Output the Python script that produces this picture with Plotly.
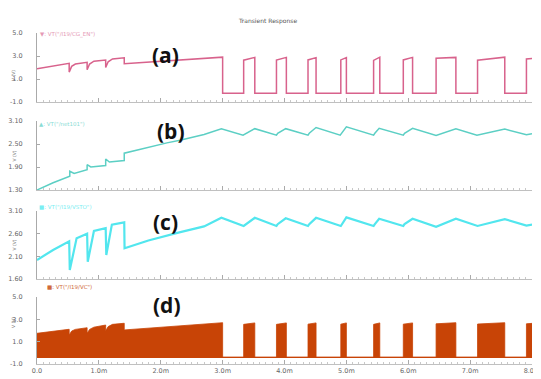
import plotly.graph_objects as go

# ---------------- data ----------------
x_tickvals = [0, 1, 2, 3, 4, 5, 6, 7, 8]
x_ticktext = ["0.0", "1.0m", "2.0m", "3.0m", "4.0m", "5.0m", "6.0m", "7.0m", "8.0m"]

# pulse edges (ms) of the switching phase (shared by CG_EN and VC)
rise_t = [3.34, 3.87, 4.38, 4.91, 5.44, 5.92, 6.45, 7.12, 7.91]
fall_t = [3.52, 4.03, 4.51, 5.00, 5.54, 6.07, 6.77, 7.56, 8.00]

# (a) VT("/I19/CG_EN")
a_t = [0.0, 0.52, 0.52, 0.56, 0.62, 0.81, 0.81, 0.85, 0.92, 1.11, 1.11, 1.15, 1.22, 1.41, 1.41, 3.0]
a_v = [1.90, 2.36, 1.60, 2.10, 2.30, 2.45, 1.80, 2.30, 2.55, 2.65, 2.00, 2.50, 2.75, 2.85, 2.33, 2.90]
a_low = -0.24
a_hi_start = [2.64, 2.64, 2.66, 2.66, 2.62, 2.66, 2.80, 2.64, 2.75]
a_hi_end = [2.88, 2.88, 2.86, 2.86, 2.90, 2.88, 2.88, 2.90, 2.78]

# (b) VT("/net101")
b_t = [0.0, 0.26, 0.53, 0.53, 0.60, 0.81, 0.81, 0.87, 1.11, 1.11, 1.17, 1.41, 1.41, 1.8, 2.1, 2.31, 2.7, 2.98,
       3.33, 3.52, 3.87, 3.89, 4.02, 4.38, 4.40, 4.51, 4.90, 5.00, 5.44, 5.46, 5.53, 5.92, 5.94, 6.07,
       6.45, 6.77, 7.11, 7.56, 7.91, 8.0]
b_v = [1.30, 1.49, 1.66, 1.79, 1.73, 1.83, 1.96, 1.90, 1.94, 2.11, 2.03, 2.07, 2.26, 2.42, 2.53, 2.60, 2.75, 2.90,
       2.73, 2.90, 2.73, 2.78, 2.90, 2.73, 2.78, 2.93, 2.73, 2.95, 2.73, 2.78, 2.91, 2.73, 2.78, 2.91,
       2.72, 2.90, 2.73, 2.89, 2.74, 2.77]

# (c) VT("/I19/VSTO")
c_t = [0.0, 0.26, 0.52, 0.53, 0.64, 0.81, 0.82, 0.92, 1.11, 1.12, 1.21, 1.41, 1.415, 1.8, 2.3, 2.7, 2.98,
       3.34, 3.52, 3.87, 3.89, 4.02, 4.38, 4.40, 4.51, 4.91, 5.00, 5.44, 5.46, 5.53, 5.92, 5.94, 6.07,
       6.45, 6.77, 7.12, 7.56, 7.91, 8.0]
c_v = [2.02, 2.24, 2.43, 1.80, 2.50, 2.60, 1.98, 2.66, 2.72, 2.13, 2.80, 2.85, 2.28, 2.45, 2.63, 2.76, 2.95,
       2.77, 2.95, 2.77, 2.81, 2.94, 2.77, 2.81, 2.95, 2.77, 2.96, 2.77, 2.81, 2.93, 2.77, 2.81, 2.93,
       2.75, 2.93, 2.77, 2.92, 2.78, 2.80]

# (d) VT("/I19/VC")  (envelope of the fast switching waveform)
d_t = [0.0, 0.52, 0.52, 0.56, 0.62, 0.81, 0.81, 0.85, 0.92, 1.11, 1.11, 1.15, 1.22, 1.41, 1.41, 3.0]
d_v = [1.75, 2.11, 1.60, 1.95, 2.10, 2.25, 1.75, 2.10, 2.30, 2.49, 1.98, 2.35, 2.55, 2.65, 2.05, 2.70]
d_low = -0.40
d_hi_start = [2.55, 2.55, 2.57, 2.57, 2.55, 2.57, 2.60, 2.58, 2.60]
d_hi_end = [2.68, 2.68, 2.68, 2.68, 2.68, 2.68, 2.70, 2.70, 2.64]

labels = ["(a)", "(b)", "(c)", "(d)"]
legend_text = ['▼: VT("/I19/CG_EN")', '▲: VT("/net101")', '■: VT("/I19/VSTO")', '■: VT("/I19/VC")']
y_tickvals = [[5.0, 3.0, 1.0, -1.0], [3.10, 2.50, 1.90, 1.30], [3.10, 2.60, 2.10, 1.60], [5.0, 3.0, 1.0, -1.0]]
y_ticktext = [["5.0", "3.0", "1.0", "-1.0"], ["3.10", "2.50", "1.90", "1.30"],
              ["3.10", "2.60", "2.10", "1.60"], ["5.0", "3.0", "1.0", "-1.0"]]


def build_pulses(t0, v0, low, hs, he):
    xs, ys = list(t0), list(v0)
    xs.append(t0[-1]); ys.append(low)
    for r, f, s, e in zip(rise_t, fall_t, hs, he):
        xs += [r, r, f]; ys += [low, s, e]
        if f < 8.0:
            xs.append(f); ys.append(low)
    return xs, ys


ax_x, ax_y = build_pulses(a_t, a_v, a_low, a_hi_start, a_hi_end)
dx, dy = build_pulses(d_t, d_v, d_low, d_hi_start, d_hi_end)

# ---------------- styling ----------------
col_a = "#D8628C"
col_b = "#5CCFC4"
col_c = "#52E6EE"
col_d = "#C84406"
leg_cols = ["#E59AB5", "#8ADCD5", "#7AEEF2", "#D06A3A"]

OFF = 8                      # page body margin in the browser
W, H = 541 - OFF, 379 - OFF
ML, MR, MT, MB = 37 - OFF, 9, 10 - OFF, 10
PW = W - ML - MR
PH = H - MT - MB


def pxx(xp):                 # reference pixel x -> paper x
    return (xp - OFF - ML) / PW


def pxy(yp):                 # reference pixel y -> paper y
    return (H - MB - (yp - OFF)) / PH


panel_px = [(33, 102), (121, 190), (211, 279), (297, 364)]
y_ranges = [[-1.0, 5.002], [1.30, 3.1005], [1.60, 3.1005], [-1.0, 5.002]]

fig = go.Figure()
fig.add_trace(go.Scatter(x=ax_x, y=ax_y, mode="lines", line=dict(color=col_a, width=1.5),
                         xaxis="x", yaxis="y"))
fig.add_trace(go.Scatter(x=b_t, y=b_v, mode="lines", line=dict(color=col_b, width=1.5),
                         xaxis="x2", yaxis="y2"))
fig.add_trace(go.Scatter(x=c_t, y=c_v, mode="lines", line=dict(color=col_c, width=2.2),
                         xaxis="x3", yaxis="y3"))
fig.add_trace(go.Scatter(x=[0, 8], y=[d_low, d_low], mode="lines", line=dict(color=col_d, width=1.2),
                         xaxis="x4", yaxis="y4"))
fig.add_trace(go.Scatter(x=dx, y=dy, mode="lines", line=dict(color=col_d, width=0.8),
                         fill="tonexty", fillcolor=col_d, xaxis="x4", yaxis="y4"))

layout = dict(width=W, height=H, margin=dict(l=ML, r=MR, t=MT, b=MB, autoexpand=False),
              plot_bgcolor="rgba(0,0,0,0)", paper_bgcolor="white", showlegend=False)

for i in range(4):
    sfx = "" if i == 0 else str(i + 1)
    top, bot = panel_px[i]
    layout["xaxis" + sfx] = dict(
        domain=[0, 1], range=[0, 8], anchor="y" + sfx, automargin=False,
        tickvals=x_tickvals, ticktext=x_ticktext, showticklabels=(i == 3),
        ticks="inside", ticklen=4, tickcolor="#aaaaaa", tickwidth=1,
        minor=dict(dtick=0.1, ticks="inside", ticklen=2, tickcolor="#c8c8c8"),
        showline=True, linecolor="#c0c0c0", linewidth=1,
        showgrid=False, zeroline=False,
        tickfont=dict(family="DejaVu Sans", size=6.5, color="#666666"),
    )
    layout["yaxis" + sfx] = dict(
        domain=[pxy(bot), pxy(top)], range=y_ranges[i], anchor="x" + sfx, automargin=False,
        tickvals=y_tickvals[i], ticktext=y_ticktext[i],
        ticks="inside", ticklen=3, tickcolor="#aaaaaa",
        showline=True, linecolor="#aaaaaa", linewidth=1,
        showgrid=False, zeroline=False, ticklabelstandoff=12,
        tickfont=dict(family="DejaVu Sans", size=6.5, color="#666666"),
    )

fig.update_layout(**layout)

label_pos = [(150, 39), (155, 131), (151, 222), (151, 321)]
legend_pos = [(38, 29), (37, 119), (37, 207), (45, 292)]
vlabel_y = [68, 156, 245, 330]

ann = []
ann.append(dict(text="Transient Response", x=pxx(267), y=pxy(15), xref="paper", yref="paper",
                showarrow=False, font=dict(family="DejaVu Sans", size=6, color="#555555")))
for i in range(4):
    ann.append(dict(text="<b>%s</b>" % labels[i], x=pxx(label_pos[i][0]), y=pxy(label_pos[i][1]),
                    xref="paper", yref="paper", showarrow=False,
                    font=dict(family="Open Sans", size=21, color="#111111")))
    ann.append(dict(text=legend_text[i], x=pxx(legend_pos[i][0]), y=pxy(legend_pos[i][1]),
                    xref="paper", yref="paper", showarrow=False, xanchor="left",
                    font=dict(family="DejaVu Sans", size=5.5, color=leg_cols[i])))
    ann.append(dict(text="V (V)", x=pxx(OFF + 1), y=pxy(vlabel_y[i]), xref="paper", yref="paper",
                    showarrow=False, textangle=-90, xanchor="left",
                    font=dict(family="DejaVu Sans", size=4.5, color="#777777")))

fig.update_layout(annotations=ann)
fig.write_html("out.html")
